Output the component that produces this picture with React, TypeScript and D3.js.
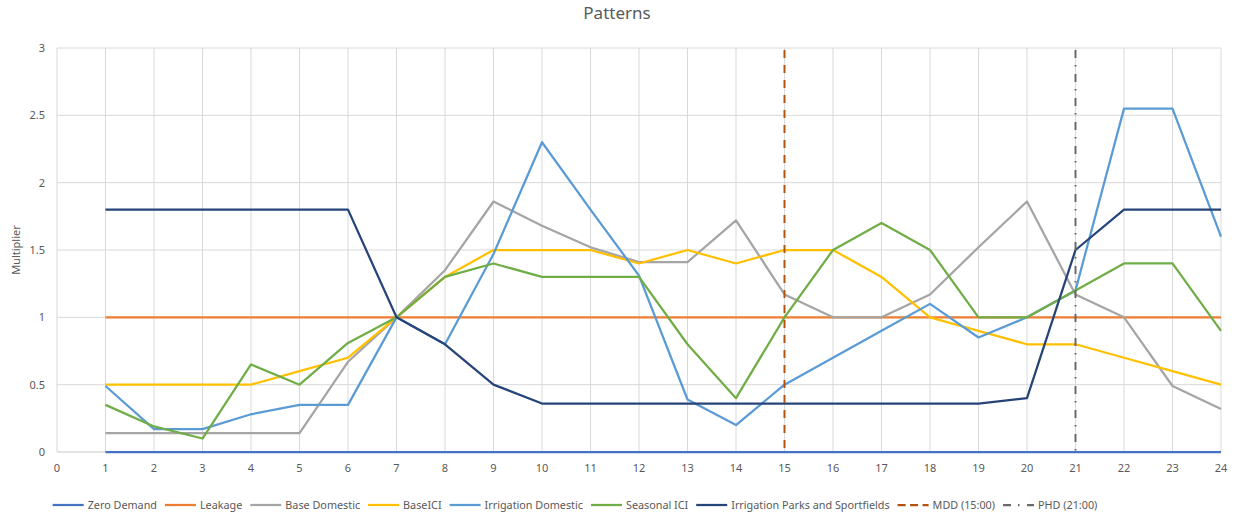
import React, { useMemo } from 'react';
import * as d3 from 'd3';

// Hour of day (x categories)
const hours = [1, 2, 3, 4, 5, 6, 7, 8, 9, 10, 11, 12, 13, 14, 15, 16, 17, 18, 19, 20, 21, 22, 23, 24];

// Demand multipliers per hour
const zeroDemand = [0, 0, 0, 0, 0, 0, 0, 0, 0, 0, 0, 0, 0, 0, 0, 0, 0, 0, 0, 0, 0, 0, 0, 0];
const leakage = [1, 1, 1, 1, 1, 1, 1, 1, 1, 1, 1, 1, 1, 1, 1, 1, 1, 1, 1, 1, 1, 1, 1, 1];
const baseDomestic = [0.14, 0.14, 0.14, 0.14, 0.14, 0.67, 1.0, 1.35, 1.86, 1.68, 1.52, 1.41, 1.41, 1.72, 1.17, 1.0, 1.0, 1.17, 1.52, 1.86, 1.17, 1.0, 0.49, 0.32];
const baseICI = [0.5, 0.5, 0.5, 0.5, 0.6, 0.7, 1.0, 1.3, 1.5, 1.5, 1.5, 1.4, 1.5, 1.4, 1.5, 1.5, 1.3, 1.0, 0.9, 0.8, 0.8, 0.7, 0.6, 0.5];
const irrigationDomestic = [0.49, 0.17, 0.17, 0.28, 0.35, 0.35, 1.0, 0.8, 1.47, 2.3, 1.8, 1.31, 0.39, 0.2, 0.5, 0.7, 0.9, 1.1, 0.85, 1.0, 1.2, 2.55, 2.55, 1.6];
const seasonalICI = [0.35, 0.19, 0.1, 0.65, 0.5, 0.81, 1.0, 1.3, 1.4, 1.3, 1.3, 1.3, 0.8, 0.4, 1.0, 1.5, 1.7, 1.5, 1.0, 1.0, 1.2, 1.4, 1.4, 0.9];
const irrigationParks = [1.8, 1.8, 1.8, 1.8, 1.8, 1.8, 1.0, 0.8, 0.5, 0.36, 0.36, 0.36, 0.36, 0.36, 0.36, 0.36, 0.36, 0.36, 0.36, 0.4, 1.5, 1.8, 1.8, 1.8];

// Reference hours for the vertical markers
const mddHour = 15;
const phdHour = 21;

const xTicks = [0, 1, 2, 3, 4, 5, 6, 7, 8, 9, 10, 11, 12, 13, 14, 15, 16, 17, 18, 19, 20, 21, 22, 23, 24];
const yTicks = [0, 0.5, 1, 1.5, 2, 2.5, 3];

const series = [
  { name: 'Zero Demand', values: zeroDemand, color: '#4472C4' },
  { name: 'Leakage', values: leakage, color: '#ED7D31' },
  { name: 'Base Domestic', values: baseDomestic, color: '#A5A5A5' },
  { name: 'BaseICI', values: baseICI, color: '#FFC000' },
  { name: 'Irrigation Domestic', values: irrigationDomestic, color: '#5B9BD5' },
  { name: 'Seasonal ICI', values: seasonalICI, color: '#70AD47' },
  { name: 'Irrigation Parks and Sportfields', values: irrigationParks, color: '#264478' },
];

const markers = [
  { name: 'MDD (15:00)', hour: mddHour, color: '#B4520F', dash: '8 7', legendDash: '8 4.5' },
  { name: 'PHD (21:00)', hour: phdHour, color: '#6A6A6A', dash: '8 7 1.5 7.5', legendDash: '8 7 1.5 7.5' },
];

const W = 1235;
const H = 514;
const FONT = "'Noto Sans', 'Open Sans', sans-serif";
const TEXT = '#595959';
const LEGEND_SIZE = 10.8;

export default function App() {
  const x = d3.scaleLinear().domain([0, 24]).range([57, 1221]);
  const y = d3.scaleLinear().domain([0, 3]).range([452, 48]);

  const line = d3
    .line<[number, number]>()
    .x((d) => x(d[0]))
    .y((d) => y(d[1]));

  // Legend layout: measure labels and center the row
  const legend = useMemo(() => {
    const ctx = document.createElement('canvas').getContext('2d')!;
    ctx.font = `${LEGEND_SIZE}px ${FONT}`;
    const items = [
      ...series.map((s) => ({ name: s.name, color: s.color, dash: undefined as string | undefined })),
      ...markers.map((m) => ({ name: m.name, color: m.color, dash: m.legendDash })),
    ];
    const sample = 31;
    const gapText = 4;
    const gapItem = 8;
    const widths = items.map((it) => ctx.measureText(it.name).width);
    const total =
      widths.reduce((a, w) => a + sample + gapText + w, 0) + gapItem * (items.length - 1);
    let cx = 575 - total / 2;
    return items.map((it, i) => {
      const out = { ...it, x: cx };
      cx += sample + gapText + widths[i] + gapItem;
      return out;
    });
  }, []);

  return (
    <svg
      width={W}
      height={H}
      style={{ position: 'absolute', left: 0, top: 0, background: '#fff' }}
      fontFamily={FONT}
    >
      <rect x={0} y={0} width={W} height={H} fill="#fff" />
      <text x={617} y={19} textAnchor="middle" fontSize={17} fill={TEXT}>
        Patterns
      </text>

      {/* grid */}
      {yTicks.map((t) => (
        <line key={'gy' + t} x1={x(0)} x2={x(24)} y1={y(t)} y2={y(t)} stroke={t === 0 ? '#c8c8c8' : '#d9d9d9'} strokeWidth={1} />
      ))}
      {xTicks.map((t) => (
        <line key={'gx' + t} x1={x(t)} x2={x(t)} y1={y(0)} y2={y(3)} stroke="#d9d9d9" strokeWidth={1} />
      ))}

      {/* tick labels */}
      {yTicks.map((t) => (
        <text key={'ty' + t} x={45} y={y(t)} dy="0.35em" textAnchor="end" fontSize={11} fill={TEXT}>
          {t}
        </text>
      ))}
      {xTicks.map((t) => (
        <text key={'tx' + t} x={x(t)} y={472} textAnchor="middle" fontSize={11} fill={TEXT}>
          {t}
        </text>
      ))}

      <text
        transform={`translate(20,${(y(0) + y(3)) / 2}) rotate(-90)`}
        textAnchor="middle"
        fontSize={11}
        fill={TEXT}
      >
        Multiplier
      </text>

      {/* series */}
      {series.map((s) => (
        <path
          key={s.name}
          d={line(hours.map((h, i) => [h, s.values[i]] as [number, number])) || ''}
          fill="none"
          stroke={s.color}
          strokeWidth={2.25}
          strokeLinejoin="round"
        />
      ))}

      {/* markers */}
      {markers.map((m) => (
        <line
          key={m.name}
          x1={x(m.hour)}
          x2={x(m.hour)}
          y1={y(2.985)}
          y2={y(0)}
          stroke={m.color}
          strokeWidth={2}
          strokeDasharray={m.dash}
        />
      ))}

      {/* legend */}
      {legend.map((it) => (
        <g key={'lg' + it.name} transform={`translate(${it.x},505)`}>
          <line x1={0} x2={31} y1={0} y2={0} stroke={it.color} strokeWidth={2.25} strokeDasharray={it.dash} />
          <text x={35} y={0} dy="0.35em" fontSize={LEGEND_SIZE} fill={TEXT}>
            {it.name}
          </text>
        </g>
      ))}
    </svg>
  );
}
